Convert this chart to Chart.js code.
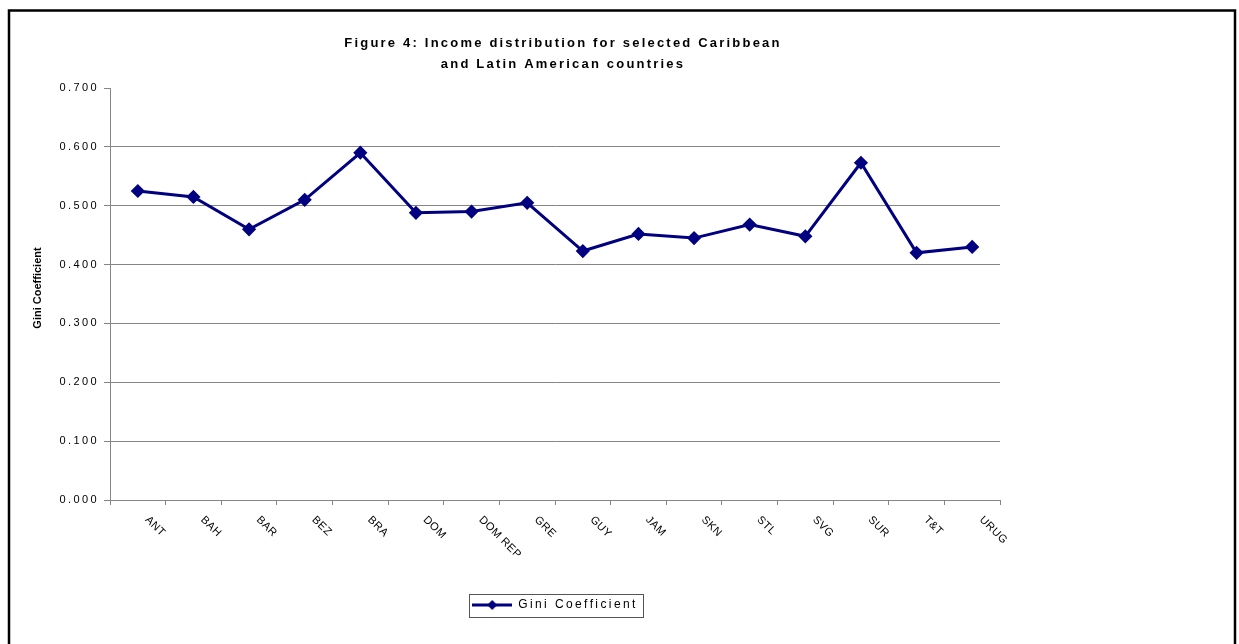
<!DOCTYPE html>
<html>
<head>
<meta charset="utf-8">
<script src="https://cdn.jsdelivr.net/npm/chart.js@4.4.1/dist/chart.umd.min.js"></script>
<style>
  html, body { margin: 0; padding: 0; background: #fff; }
  #wrap { width: 1239px; height: 644px; }
</style>
</head>
<body>
<div id="wrap"><canvas id="myChart" width="1239" height="644"></canvas></div>
<script>
// chart data
const countries = ['ANT', 'BAH', 'BAR', 'BEZ', 'BRA', 'DOM', 'DOM REP', 'GRE', 'GUY', 'JAM', 'SKN', 'STL', 'SVG', 'SUR', 'T&T', 'URUG'];
const gini = [0.525, 0.515, 0.460, 0.510, 0.590, 0.488, 0.490, 0.505, 0.423, 0.452, 0.445, 0.468, 0.448, 0.573, 0.420, 0.430];
const yMin = 0, yMax = 0.7, yStep = 0.1;
const chartTitle = ['Figure 4: Income distribution for selected Caribbean', 'and Latin American countries'];
const seriesName = 'Gini Coefficient';
const yAxisTitle = 'Gini Coefficient';

const lineColor = '#000080';
const gridColor = '#858585';
const fontFamily = 'Arial, "Liberation Sans", sans-serif';

// legend marker: line with a diamond in the middle
const marker = document.createElement('canvas');
marker.width = 40; marker.height = 12;
(function () {
    const c = marker.getContext('2d');
    c.strokeStyle = lineColor; c.lineWidth = 3;
    c.beginPath(); c.moveTo(0, 6); c.lineTo(40, 6); c.stroke();
    c.fillStyle = lineColor;
    c.beginPath(); c.moveTo(20, 1); c.lineTo(25, 6); c.lineTo(20, 11); c.lineTo(15, 6); c.closePath(); c.fill();
})();

// wide Excel-like text spacing, plus the pieces Chart.js can't lay out the same way
const excelLook = {
    id: 'excelLook',
    beforeLayout(chart) { chart.ctx.letterSpacing = '2.4px'; },
    beforeDraw(chart) {
        const ctx = chart.ctx;
        ctx.save();
        ctx.fillStyle = '#fff';
        ctx.fillRect(0, 0, chart.width, chart.height);
        ctx.restore();
        ctx.letterSpacing = '2.4px';
    },
    afterDraw(chart) {
        const ctx = chart.ctx;
        const xs = chart.scales.x;

        // title
        ctx.save();
        ctx.fillStyle = '#000';
        ctx.font = 'bold 13px ' + fontFamily;
        ctx.letterSpacing = '2.2px';
        ctx.textAlign = 'center';
        ctx.textBaseline = 'middle';
        chartTitle.forEach((t, i) => ctx.fillText(t, 563, 43 + i * 21));
        ctx.restore();

        // rotated category labels
        ctx.save();
        ctx.fillStyle = '#000';
        ctx.font = '11px ' + fontFamily;
        ctx.letterSpacing = '0.5px';
        ctx.textAlign = 'left';
        ctx.textBaseline = 'middle';
        countries.forEach((c, i) => {
            const x = xs.getPixelForValue(i);
            ctx.save();
            ctx.translate(x + 9, xs.top + 18);
            ctx.rotate(Math.PI / 4);
            ctx.fillText(c, 0, 0);
            ctx.restore();
        });
        ctx.restore();

        // y axis title
        ctx.save();
        ctx.fillStyle = '#000';
        ctx.font = 'bold 11px ' + fontFamily;
        ctx.letterSpacing = '0px';
        ctx.textAlign = 'center';
        ctx.textBaseline = 'middle';
        ctx.translate(38, 288);
        ctx.rotate(-Math.PI / 2);
        ctx.fillText(yAxisTitle, 0, 0);
        ctx.restore();

        // legend frame
        const hb = chart.legend.legendHitBoxes[0];
        if (hb) {
            ctx.save();
            ctx.strokeStyle = '#555';
            ctx.lineWidth = 1;
            const cy = hb.top + hb.height / 2;
            ctx.strokeRect(Math.round(hb.left - 3) + 0.5, Math.round(cy - 11.5) + 0.5, Math.round(hb.width + 8), 23);
            ctx.restore();
        }

        // outer frame
        ctx.save();
        ctx.strokeStyle = '#000';
        ctx.lineWidth = 2.5;
        ctx.strokeRect(9, 10.5, 1226, 700);
        ctx.restore();
    }
};

new Chart(document.getElementById('myChart'), {
    type: 'line',
    data: {
        labels: countries,
        datasets: [{
            label: seriesName,
            data: gini,
            borderColor: lineColor,
            backgroundColor: lineColor,
            borderWidth: 3,
            tension: 0,
            pointStyle: 'rectRot',
            pointRadius: 5,
            pointBackgroundColor: lineColor,
            pointBorderColor: lineColor
        }]
    },
    options: {
        responsive: false,
        animation: false,
        layout: { padding: { left: 10, right: 239, top: 88, bottom: 23 } },
        scales: {
            x: {
                type: 'category',
                offset: true,
                grid: { offset: true, drawOnChartArea: false, color: gridColor, tickLength: 5 },
                border: { color: gridColor, width: 1 },
                ticks: { display: false },
                afterFit: s => { s.height = 89; }
            },
            y: {
                min: yMin,
                max: yMax,
                grid: {
                    color: c => (c.tick && c.tick.value >= yMax - 1e-9) ? 'rgba(0,0,0,0)' : gridColor,
                    tickColor: gridColor,
                    tickLength: 6
                },
                border: { color: gridColor, width: 1 },
                ticks: {
                    stepSize: yStep,
                    padding: 5,
                    color: '#000',
                    font: { size: 11, family: fontFamily },
                    callback: v => Number(v).toFixed(3)
                },
                afterFit: s => { s.width = 100; }
            }
        },
        plugins: {
            title: { display: false },
            tooltip: { enabled: false },
            legend: {
                position: 'bottom',
                fullSize: false,
                labels: {
                    usePointStyle: true,
                    pointStyle: marker,
                    pointStyleWidth: 40,
                    color: '#000',
                    padding: 10,
                    font: { size: 12, family: fontFamily }
                }
            }
        }
    },
    plugins: [excelLook]
});
</script>
</body>
</html>
